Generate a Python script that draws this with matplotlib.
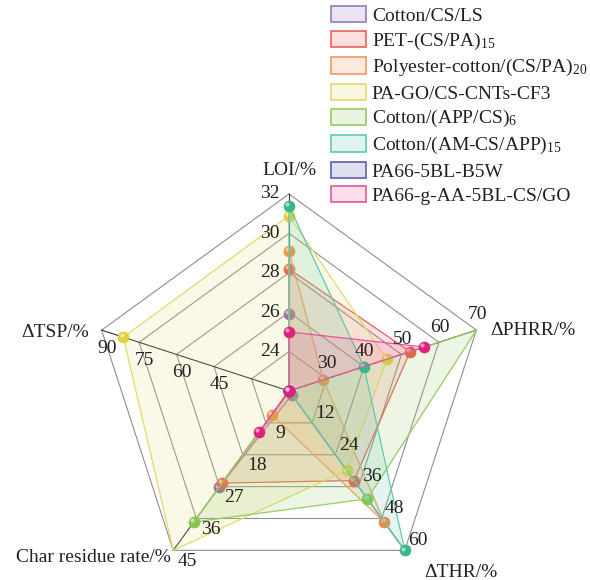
import numpy as np
import matplotlib.pyplot as plt
from matplotlib.patches import Patch
from matplotlib.colors import to_rgba
from matplotlib.transforms import ScaledTranslation

plt.rcParams['font.family'] = ['Liberation Serif', 'DejaVu Serif']
plt.rcParams['mathtext.fontset'] = 'custom'
plt.rcParams['mathtext.rm'] = 'Liberation Serif'
plt.rcParams['mathtext.it'] = 'Liberation Serif:italic'

# axes of the radar (clockwise from the top)
axis_names = ['LOI/%', 'ΔPHRR/%', 'ΔTHR/%', 'Char residue rate/%', 'ΔTSP/%']
axis_min = [22, 20, 0, 0, 15]
axis_max = [32, 70, 60, 45, 90]
axis_ticks = [[24, 26, 28, 30, 32],
              [30, 40, 50, 60, 70],
              [12, 24, 36, 48, 60],
              [9, 18, 27, 36, 45],
              [45, 60, 75, 90]]

nan = np.nan
series_names = ['Cotton/CS/LS', 'PET-(CS/PA)$_{15}$', 'Polyester-cotton/(CS/PA)$_{20}$',
                'PA-GO/CS-CNTs-CF3', 'Cotton/(APP/CS)$_{6}$', 'Cotton/(AM-CS/APP)$_{15}$',
                'PA66-5BL-B5W', 'PA66-g-AA-5BL-CS/GO']
# LOI, dPHRR, dTHR, char residue, dTSP  (nan = not reported)
cotton_cs_ls = [25.9, nan, 1.5, 27.2, nan]
pet_cs_pa = [28.2, 52.3, 33.7, 26.0, nan]
polyester_cotton = [29.1, 29.2, 49.4, 6.7, nan]
pa_go_cnts = [30.9, 46.1, 29.9, 47.0, 81.3]
cotton_app_cs = [nan, 72.0, 40.6, 37.0, nan]
cotton_am_cs_app = [31.4, 40.0, 60.0, nan, nan]
pa66_b5w = [nan, nan, nan, nan, nan]
pa66_cs_go = [25.0, 56.1, nan, 11.6, nan]
series_values = [cotton_cs_ls, pet_cs_pa, polyester_cotton, pa_go_cnts,
                 cotton_app_cs, cotton_am_cs_app, pa66_b5w, pa66_cs_go]

edge_colors = ['#9a78c0', '#e8625a', '#f09a62', '#e2da6e',
               '#96cc66', '#5fc9b0', '#5a60aa', '#e6559a']
dot_colors = ['#8a5cb0', '#ea5448', '#ee8a44', '#dcd240',
              '#86c44a', '#36b888', '#4f58b0', '#e0207c']

angles = np.deg2rad(np.arange(5) * 72)
sx, sy = np.sin(angles), np.cos(angles)


def to_radius(vals):
    lo = np.array(axis_min, float)
    hi = np.array(axis_max, float)
    r = (np.array(vals, float) - lo) / (hi - lo)
    return np.clip(np.nan_to_num(r, nan=0.0), 0, 1)


fig = plt.figure(figsize=(5.9, 5.8), dpi=100)
ax = fig.add_axes([0, 0, 1, 1])
R = 197
ax.set_xlim(-289 / R, (590 - 289) / R)
ax.set_ylim(-(580 - 391) / R, 391 / R)
ax.axis('off')

text_kw = dict(color='#222222', fontsize=14, zorder=20)

# pentagon rings and spokes
for k in range(1, 6):
    ring = np.r_[np.arange(5), 0]
    ax.plot(sx[ring] * k / 5, sy[ring] * k / 5, color='#8f8f8f', lw=0.8, zorder=1)
for i in range(5):
    ax.plot([0, sx[i]], [0, sy[i]], color='#333333', lw=0.8, zorder=1)

# tick labels on each axis
tick_offsets = [(-7, 0, 'right'), (0.5, 11, 'center'), (9.5, 7, 'center'),
                (10.5, -8, 'center'), (4, -13, 'center')]
for i in range(5):
    dx, dy, ha = tick_offsets[i]
    for t in axis_ticks[i]:
        r = (t - axis_min[i]) / (axis_max[i] - axis_min[i])
        ax.annotate(str(t), (sx[i] * r, sy[i] * r), xytext=(dx, dy),
                    textcoords='offset points', ha=ha, va='center', **text_kw)

# axis titles
name_offsets = [(0, 17, 'center'), (10, 0, 'left'), (14, -16, 'left'),
                (-2, -5, 'right'), (-9, -2, 'right')]
for i in range(5):
    dx, dy, ha = name_offsets[i]
    ax.annotate(axis_names[i], (sx[i], sy[i]), xytext=(dx, dy),
                textcoords='offset points', ha=ha, va='center', **text_kw)

# series polygons with glossy markers
shine = ax.transData + ScaledTranslation(-1.3 / 72, 1.3 / 72, fig.dpi_scale_trans)
for n, vals in enumerate(series_values):
    r = to_radius(vals)
    x, y = sx * r, sy * r
    z = 2 + n
    ax.fill(x, y, color=edge_colors[n], alpha=0.17, lw=0, zorder=z)
    ax.plot(np.r_[x, x[0]], np.r_[y, y[0]], color=edge_colors[n], lw=0.9, zorder=z)
    shown = ~(np.array(vals, float) > np.array(axis_max))
    ax.plot(x[shown], y[shown], 'o', ms=8, mfc=dot_colors[n],
            mec=dot_colors[n], mew=0.4, zorder=z, clip_on=False)
    ax.plot(x[shown], y[shown], 'o', ms=3, mfc='white', mec='none',
            alpha=0.55, transform=shine, zorder=z, clip_on=False)

handles = [Patch(facecolor=to_rgba(c, 0.2), edgecolor=c, lw=1.2) for c in edge_colors]
fig.legend(handles, series_names, loc='upper left', bbox_to_anchor=(331 / 590, 1 - 6 / 580),
           frameon=False, fontsize=14, handlelength=1.8, handleheight=0.9,
           handletextpad=0.3, labelspacing=0.29, borderpad=0, borderaxespad=0,
           labelcolor='#222222')

fig.savefig('out.png', dpi=100)
